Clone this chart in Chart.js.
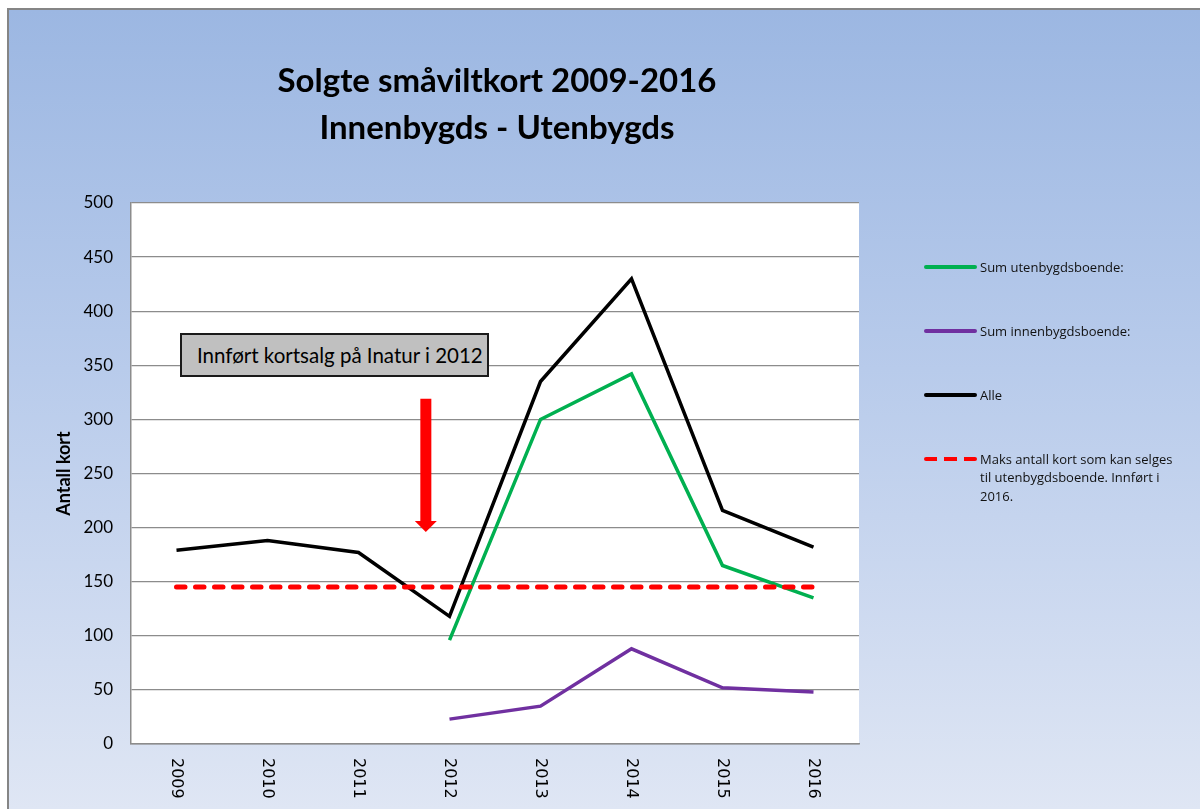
<!DOCTYPE html>
<html lang="no">
<head>
<meta charset="utf-8">
<title>Solgte småviltkort 2009-2016</title>
<script src="https://cdn.jsdelivr.net/npm/chart.js@4.4.0/dist/chart.umd.min.js"></script>
<style>
  html, body { margin: 0; padding: 0; background: #fff; }
  #wrap { position: relative; width: 1200px; height: 809px; overflow: hidden; }
  #frame {
    position: absolute; left: 7px; top: 8px; right: 0; bottom: 0;
    border-left: 2px solid #858585; border-top: 2px solid #858585;
    background: linear-gradient(to bottom, #9cb7e2 0%, #b8cbeb 45%, #dfe6f4 100%);
  }
  #chart { position: absolute; left: 0; top: 0; }
  #title {
    position: absolute; left: 497px; top: 56px; transform: translateX(-50%);
    font: bold 33px Lato, "Open Sans", sans-serif; line-height: 47px;
    text-align: center; white-space: nowrap; color: #000;
  }
  #note {
    position: absolute; left: 180px; top: 333px; width: 305px; height: 40px;
    background: #c0c0c0; border: 2px solid #1a1a1a;
    font: 20.5px Lato, "Open Sans", sans-serif; line-height: 40px;
    box-sizing: content-box; white-space: nowrap; color: #000;
  }
  #note span { position: absolute; left: 15px; }
  .lg-line { position: absolute; left: 924px; width: 53px; height: 4px; border-radius: 2px; }
  .lg-text {
    position: absolute; left: 980px; font: 13px "Open Sans", Lato, sans-serif;
    line-height: 18.5px; color: #111; white-space: nowrap;
  }
</style>
</head>
<body>
<div id="wrap">
  <div id="frame"></div>
  <canvas id="chart" width="1200" height="809"></canvas>
  <div id="title">Solgte småviltkort 2009-2016<br>Innenbygds - Utenbygds</div>
  <div id="note"><span>Innført kortsalg på Inatur i 2012</span></div>
  <div id="legend"></div>
</div>
<script>
// data
const years = ["2009", "2010", "2011", "2012", "2013", "2014", "2015", "2016"];
const utenbygds = [null, null, null, 96, 300, 342, 165, 135];
const innenbygds = [null, null, null, 23, 35, 88, 52, 48];
const alle = [179, 188, 177, 118, 335, 430, 216, 182];
const maksKort = [145, 145, 145, 145, 145, 145, 145, 145];

const seriesNames = [
  "Sum utenbygdsboende:",
  "Sum innenbygdsboende:",
  "Alle",
  "Maks antall kort som kan selges\ntil utenbygdsboende. Innført i\n2016."
];
const seriesColors = ["#00b050", "#7030a0", "#000000", "#ff0000"];

const yMin = 0, yMax = 500, yStep = 50;
const axisColor = "#8c8c8c";

// white plot area
const plotBg = {
  id: "plotBg",
  beforeDraw(chart) {
    const { ctx, chartArea: a } = chart;
    ctx.save();
    ctx.fillStyle = "#ffffff";
    ctx.fillRect(a.left, a.top, a.right - a.left, a.bottom - a.top);
    ctx.restore();
  }
};

// year labels rotated clockwise, reading downward
const yearLabels = {
  id: "yearLabels",
  afterDraw(chart) {
    const { ctx, scales } = chart;
    const x = scales.x;
    ctx.save();
    ctx.fillStyle = "#000";
    ctx.font = "16px 'DejaVu Sans', sans-serif";
    ctx.textAlign = "left";
    ctx.textBaseline = "middle";
    years.forEach((lbl, i) => {
      ctx.save();
      ctx.translate(x.getPixelForValue(i), chart.chartArea.bottom + 14);
      ctx.rotate(Math.PI / 2);
      ctx.fillText(lbl, 0, 0);
      ctx.restore();
    });
    ctx.restore();
  }
};

// red arrow pointing down at the 2012 drop
const arrow = {
  id: "arrow",
  afterDatasetsDraw(chart) {
    const { ctx, scales } = chart;
    const cx = scales.x.getPixelForValue(2.74);
    const top = scales.y.getPixelForValue(319);
    const headBase = scales.y.getPixelForValue(206);
    const tip = scales.y.getPixelForValue(196);
    ctx.save();
    ctx.fillStyle = "#ff0000";
    ctx.beginPath();
    ctx.moveTo(cx - 5.5, top);
    ctx.lineTo(cx + 5.5, top);
    ctx.lineTo(cx + 5.5, headBase);
    ctx.lineTo(cx + 11, headBase);
    ctx.lineTo(cx, tip);
    ctx.lineTo(cx - 11, headBase);
    ctx.lineTo(cx - 5.5, headBase);
    ctx.closePath();
    ctx.fill();
    ctx.restore();
  }
};

new Chart(document.getElementById("chart"), {
  type: "line",
  data: {
    labels: years,
    datasets: [
      { label: seriesNames[0], data: utenbygds, borderColor: seriesColors[0], borderWidth: 3.5, order: 2 },
      { label: seriesNames[1], data: innenbygds, borderColor: seriesColors[1], borderWidth: 3.5, order: 3 },
      { label: seriesNames[2], data: alle, borderColor: seriesColors[2], borderWidth: 3.5, order: 1 },
      { label: seriesNames[3], data: maksKort, borderColor: seriesColors[3], borderWidth: 5,
        borderDash: [8.5, 10.5], borderCapStyle: "round", order: 0 }
    ]
  },
  options: {
    responsive: false,
    animation: false,
    devicePixelRatio: 1,
    spanGaps: false,
    elements: { point: { radius: 0, hoverRadius: 0 }, line: { tension: 0, borderJoinStyle: "miter" } },
    layout: { padding: { left: 53, right: 341, top: 203, bottom: 0 } },
    plugins: { legend: { display: false }, tooltip: { enabled: false } },
    scales: {
      x: {
        offset: true,
        ticks: { display: false },
        grid: { display: false, drawTicks: false },
        border: { color: axisColor, width: 1.5 },
        afterFit(s) { s.height = 65; }
      },
      y: {
        min: yMin, max: yMax,
        ticks: { stepSize: yStep, padding: 18, color: "#000", font: { family: "Lato", size: 17 } },
        grid: { color: axisColor, lineWidth: 1.2, drawTicks: false },
        border: { color: axisColor, width: 1.5 },
        title: { display: true, text: "Antall kort", color: "#000", font: { family: "Lato", size: 18, weight: "bold" }, padding: 0 },
        afterFit(s) { s.width = 78; }
      }
    }
  },
  plugins: [plotBg, yearLabels, arrow]
});

// legend laid out to the right of the plot, as in the original
const legendRows = [267, 331, 395, 459];
const legend = document.getElementById("legend");
seriesNames.forEach((name, i) => {
  const line = document.createElement("div");
  line.className = "lg-line";
  line.style.top = (legendRows[i] - 2) + "px";
  if (i === 3) {
    line.style.background = "repeating-linear-gradient(to right, " + seriesColors[i] + " 0 13px, transparent 13px 20px)";
  } else {
    line.style.background = seriesColors[i];
  }
  legend.appendChild(line);
  const txt = document.createElement("div");
  txt.className = "lg-text";
  txt.style.top = (legendRows[i] - 9.25) + "px";
  txt.innerHTML = name.split("\n").join("<br>");
  legend.appendChild(txt);
});
</script>
</body>
</html>
